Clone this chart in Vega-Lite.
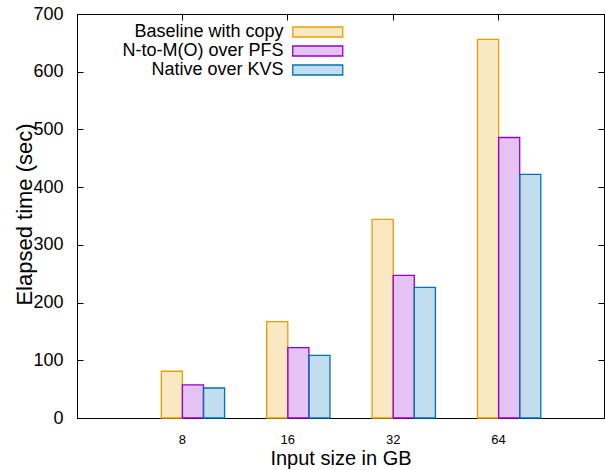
{
  "$schema": "https://vega.github.io/schema/vega-lite/v6.json",
  "width": 527,
  "height": 404,
  "autosize": "none",
  "padding": {"left": 77, "top": 14, "right": 1, "bottom": 52},
  "background": "white",
  "config": {
    "view": {"stroke": "black", "strokeWidth": 1},
    "font": "Liberation Sans",
    "axis": {
      "grid": false,
      "domainColor": "black",
      "tickColor": "black",
      "labelColor": "black",
      "titleColor": "black",
      "titleFontWeight": "normal",
      "titleFont": "Liberation Sans",
      "labelFont": "Liberation Sans"
    }
  },
  "data": {
    "values": [
      {"size": "8", "series": "Baseline with copy", "time": 81},
      {"size": "8", "series": "N-to-M(O) over PFS", "time": 57.5},
      {"size": "8", "series": "Native over KVS", "time": 52},
      {"size": "16", "series": "Baseline with copy", "time": 167},
      {"size": "16", "series": "N-to-M(O) over PFS", "time": 122},
      {"size": "16", "series": "Native over KVS", "time": 108.5},
      {"size": "32", "series": "Baseline with copy", "time": 344},
      {"size": "32", "series": "N-to-M(O) over PFS", "time": 247},
      {"size": "32", "series": "Native over KVS", "time": 226.5},
      {"size": "64", "series": "Baseline with copy", "time": 656},
      {"size": "64", "series": "N-to-M(O) over PFS", "time": 486},
      {"size": "64", "series": "Native over KVS", "time": 422}
    ]
  },
  "layer": [
    {
      "mark": {"type": "bar", "fillOpacity": 0.24, "strokeWidth": 1.3},
      "encoding": {
        "x": {
          "field": "size", "type": "ordinal", "sort": ["8", "16", "32", "64"],
          "scale": {"paddingInner": 0, "paddingOuter": 0.5},
          "axis": {"orient": "bottom", "title": "Input size in GB", "labelAngle": 0, "labelFontSize": 13, "tickSize": -6, "labelPadding": 21, "titleFontSize": 20, "titleBaseline": "alphabetic", "titleY": 46}
        },
        "xOffset": {
          "field": "series", "sort": ["Baseline with copy", "N-to-M(O) over PFS", "Native over KVS"],
          "scale": {"range": [31.6, 94.9], "paddingInner": 0, "paddingOuter": 0}
        },
        "y": {
          "field": "time", "type": "quantitative",
          "scale": {"domain": [0, 700], "nice": false},
          "axis": {"orient": "left", "title": "Elapsed time (sec)", "values": [0, 100, 200, 300, 400, 500, 600, 700], "labelFontSize": 18, "tickSize": -6, "labelPadding": 20, "titleFontSize": 22, "titleBaseline": "alphabetic", "titleX": -46, "titleY": 200}
        },
        "fill": {
          "field": "series", "type": "nominal",
          "sort": ["Baseline with copy", "N-to-M(O) over PFS", "Native over KVS"],
          "scale": {"domain": ["Baseline with copy", "N-to-M(O) over PFS", "Native over KVS"], "range": ["#E69F00", "#9400D3", "#0072B2"]},
          "legend": {"orient": "none", "legendX": 231.25, "legendY": 8.5, "title": null, "labelAlign": "right", "labelOffset": -43.75, "symbolType": "M-2.857,-0.571H2.857V0.571H-2.857Z", "symbolSize": 306.25, "labelFontSize": 18, "labelFont": "Liberation Sans", "labelColor": "black", "rowPadding": -1, "padding": 0, "symbolStrokeWidth": 1.3, "labelLimit": 300, "encode": {"symbols": {"update": {"fillOpacity": {"value": 0.24}}}}}
        },
        "stroke": {
          "field": "series", "type": "nominal",
          "sort": ["Baseline with copy", "N-to-M(O) over PFS", "Native over KVS"],
          "scale": {"domain": ["Baseline with copy", "N-to-M(O) over PFS", "Native over KVS"], "range": ["#E69F00", "#9400D3", "#0072B2"]},
          "legend": {"orient": "none", "legendX": 231.25, "legendY": 8.5, "title": null, "labelAlign": "right", "labelOffset": -43.75, "symbolType": "M-2.857,-0.571H2.857V0.571H-2.857Z", "symbolSize": 306.25, "labelFontSize": 18, "labelFont": "Liberation Sans", "labelColor": "black", "rowPadding": -1, "padding": 0, "symbolStrokeWidth": 1.3, "labelLimit": 300, "encode": {"symbols": {"update": {"fillOpacity": {"value": 0.24}}}}}
        }
      }
    },
    {
      "mark": {"type": "bar", "opacity": 0},
      "encoding": {
        "x": {
          "field": "size", "type": "ordinal", "sort": ["8", "16", "32", "64"],
          "scale": {"paddingInner": 0, "paddingOuter": 0.5},
          "axis": {"orient": "top", "title": null, "labels": false, "tickSize": -6}
        },
        "xOffset": {
          "field": "series", "sort": ["Baseline with copy", "N-to-M(O) over PFS", "Native over KVS"],
          "scale": {"range": [31.6, 94.9], "paddingInner": 0, "paddingOuter": 0}
        },
        "y": {
          "field": "time", "type": "quantitative",
          "scale": {"domain": [0, 700], "nice": false},
          "axis": {"orient": "right", "title": null, "labels": false, "values": [0, 100, 200, 300, 400, 500, 600, 700], "tickSize": -6}
        }
      }
    }
  ],
  "resolve": {"axis": {"x": "independent", "y": "independent"}}
}
